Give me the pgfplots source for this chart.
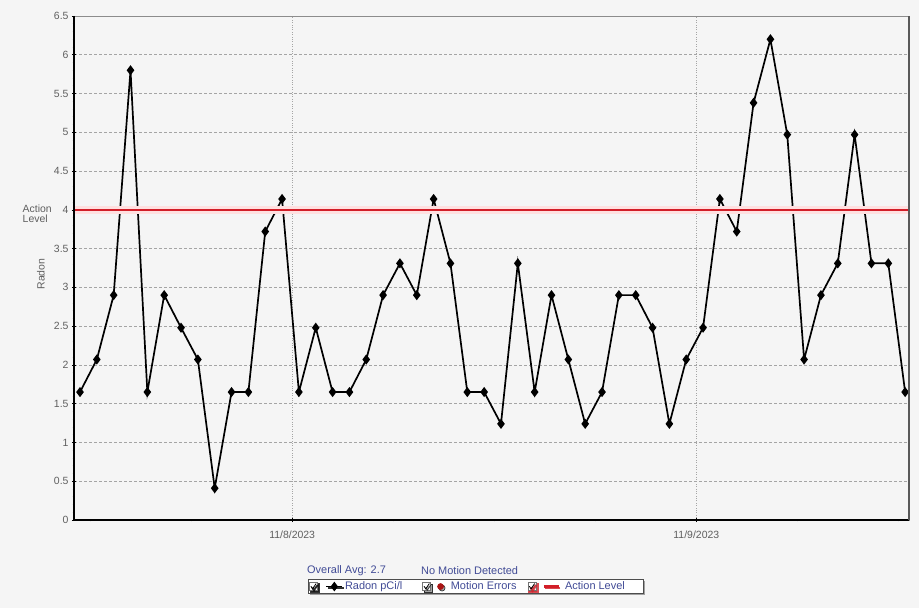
\documentclass[border=0pt]{standalone}
\usepackage{pgfplots}
\pgfplotsset{compat=1.18}
\usepackage{fontspec}
\setmainfont{Liberation Sans}
\usetikzlibrary{shadows}
\definecolor{bg}{RGB}{245,245,245}
\definecolor{tickgray}{RGB}{95,95,95}
\definecolor{gridgray}{RGB}{165,165,165}
\definecolor{legblue}{RGB}{65,75,150}
\definecolor{actred}{RGB}{210,30,40}
\definecolor{errred}{RGB}{170,20,20}
\newcommand{\chkbox}{%
  \path[draw=black!55, fill=white, line width=0.5bp, solid] (0bp,-4bp) rectangle (8bp,4bp);
  \path[draw=black, line width=0.8bp, solid] (1.5bp,0.3bp) -- (3.2bp,-2.3bp) -- (6.8bp,3bp);}

% hourly radon readings, index 0..49
\pgfplotstableread{
i v
0 1.65
1 2.07
2 2.90
3 5.80
4 1.65
5 2.90
6 2.48
7 2.07
8 0.41
9 1.65
10 1.65
11 3.72
12 4.14
13 1.65
14 2.48
15 1.65
16 1.65
17 2.07
18 2.90
19 3.31
20 2.90
21 4.14
22 3.31
23 1.65
24 1.65
25 1.24
26 3.31
27 1.65
28 2.90
29 2.07
30 1.24
31 1.65
32 2.90
33 2.90
34 2.48
35 1.24
36 2.07
37 2.48
38 4.14
39 3.72
40 5.38
41 6.20
42 4.97
43 2.07
44 2.90
45 3.31
46 4.97
47 3.31
48 3.31
49 1.65
}\radon

\begin{document}
\begin{tikzpicture}
\path[use as bounding box, fill=bg] (-74bp,-88bp) rectangle (845bp,520bp);
\begin{axis}[
  name=ax, at={(0,0)}, anchor=south west,
  scale only axis, width=835bp, height=504bp,
  clip=false,
  xmin=-0.356, xmax=49.23,
  ymin=0, ymax=6.5,
  xtick={12.6,36.6},
  xticklabels={11/8/2023,11/9/2023},
  minor xtick={0.6,6.6,18.6,24.6,30.6,42.6,48.6},
  ytick={0,0.5,1,1.5,2,2.5,3,3.5,4,4.5,5,5.5,6,6.5},
  minor y tick num=4,
  tick pos=left,
  tick align=center,
  major tick length=4bp,
  minor tick length=2.5bp,
  every tick/.style={black, line width=0.6bp},
  xmajorgrids, ymajorgrids,
  x grid style={gridgray, dotted, line width=0.7bp},
  y grid style={gridgray, dash pattern=on 2.5bp off 2.5bp, line width=0.7bp},
  axis line style={draw=black!45, line width=0.8bp},
  /pgf/number format/assume math mode=true,
  tick label style={font=\fontsize{10.5}{12}\selectfont, text=tickgray},
  xticklabel style={yshift=-5bp},
  legend columns=3,
  legend cell align=left,
  legend style={at={(0.4814,-0.132)}, anchor=center,
    draw=black!70, line width=0.6bp, fill=white,
    drop shadow={shadow xshift=1.5bp, shadow yshift=-1.5bp, fill=black!45, opacity=0.8},
    font=\fontsize{11}{12}\selectfont, text=legblue,
    inner xsep=0.5bp, inner ysep=0.5bp,
    /tikz/column 2/.style={column sep=18bp},
    /tikz/column 4/.style={column sep=9bp}},
]
\addplot[black, line width=1.7bp, mark=diamond*, mark size=3.7bp,
  mark options={solid, fill=black},
  legend image code/.code={\chkbox
    \draw[mark repeat=2, mark phase=2, line width=1.4bp] plot coordinates {(17bp,0bp) (25bp,0bp) (33bp,0bp)};}]
  table[x=i, y=v] {\radon};
\addlegendentry{Radon pCi/l}
\addlegendimage{legend image code/.code={\chkbox
    \fill[errred] (18bp,0bp) circle (3bp);
    \path (26bp,0bp);}}
\addlegendentry{Motion Errors}
\addplot[red!12, line width=8bp, forget plot] coordinates {(-0.356,4) (49.23,4)};
\addplot[actred, line width=2.6bp,
  legend image code/.code={%
    \draw[actred, line width=2.2bp, line cap=butt] (16bp,0bp) -- (31bp,0bp);
    \path (34bp,0bp);
    \chkbox}]
  coordinates {(-0.356,4) (49.23,4)};
\addlegendentry{Action Level\hspace{16bp}\mbox{}}

\node[anchor=east, align=left, font=\fontsize{10.5}{10.5}\selectfont, text=tickgray, inner sep=0]
  at ([xshift=-22bp] axis cs:-0.356,3.95) {Action\\Level};
\node[rotate=90, font=\fontsize{10.5}{12}\selectfont, text=tickgray, inner sep=0]
  at ([xshift=-33bp] rel axis cs:0,0.488) {Radon};
\node[anchor=west, font=\fontsize{11}{12}\selectfont, text=legblue, inner sep=0]
  at ([xshift=233bp, yshift=-51bp] rel axis cs:0,0) {Overall Avg: 2.7};
\node[anchor=west, font=\fontsize{11}{12}\selectfont, text=legblue, inner sep=0]
  at ([xshift=347bp, yshift=-51bp] rel axis cs:0,0) {No Motion Detected};
\end{axis}
\draw[black, line width=1.5bp] (ax.north west) -- (ax.south west) -- (ax.south east);
\draw[black!65, line width=1.2bp] (ax.south east) -- (ax.north east);
\end{tikzpicture}
\end{document}
